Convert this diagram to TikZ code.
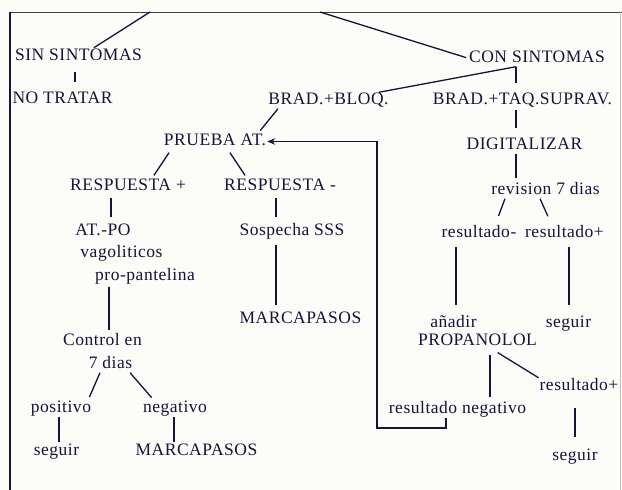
\documentclass[tikz,border=0pt]{standalone}
\usepackage{fontspec}
\setmainfont[LetterSpace=3]{Liberation Serif}
\usetikzlibrary{arrows.meta}
\definecolor{ink}{RGB}{22,20,58}
\definecolor{paper}{RGB}{252,252,248}
\tikzset{
  lbl/.style={anchor=base,inner sep=0pt,text height=12pt,text depth=4pt,
    font=\fontsize{17.5}{20}\selectfont,text=ink},
  link/.style={ink,line width=1.3pt,shorten <=3pt,shorten >=4pt},
  back/.style={ink,line width=1.3pt,->,shorten >=1pt}
}
\begin{document}
\begin{tikzpicture}[x=1pt,y=-1pt,>={Stealth[length=8pt,width=6.5pt]}]
  \fill[paper] (0,0) rectangle (622,490);
  \useasboundingbox (0,0) rectangle (622,490);
  % frame
  \draw[line width=1pt,black!75] (10,12) -- (622,12);
  \draw[line width=1.2pt,ink] (10,12) -- (10,490);
  \draw[line width=0.6pt,black!25] (620,12) -- (620,490);
  \coordinate (rootL) at (150,12);
  \coordinate (rootR) at (320,12);
  \coordinate (loopB) at (377,428);
  % left branch
  \node[lbl] (sin) at (78.5,60.5) {SIN SINTOMAS};
  \node[lbl] (notratar) at (62.5,103.5) {NO TRATAR};
  % right branch
  \node[lbl] (con) at (537,62.5) {CON SINTOMAS};
  \node[lbl] (bloq) at (328.5,104.5) {BRAD.+BLOQ.};
  \node[lbl] (taq) at (522.5,104.5) {BRAD.+TAQ.SUPRAV.};
  \node[lbl] (digit) at (524.5,149.5) {DIGITALIZAR};
  \node[lbl] (revision) at (545.5,194.5) {revision 7 dias};
  \node[lbl] (resm) at (479,237.5) {resultado-};
  \node[lbl] (resp) at (564.5,237.5) {resultado+};
  \node[lbl] (anadir) at (453.5,327.5) {añadir};
  \node[lbl] (seguirA) at (568.5,327.5) {seguir};
  \node[lbl] (propa) at (477.5,345.5) {PROPANOLOL};
  \node[lbl] (resp2) at (579,390.5) {resultado+};
  \node[lbl] (resneg) at (457.5,413.5) {resultado negativo};
  \node[lbl] (seguirB) at (575,460.5) {seguir};
  % prueba atropina
  \node[lbl] (prueba) at (215,145.5) {PRUEBA AT.};
  \node[lbl] (rpos) at (128,190.5) {RESPUESTA +};
  \node[lbl] (rneg) at (280,190.5) {RESPUESTA -};
  \node[lbl] (atpo) at (103,235.5) {AT.-PO};
  \node[lbl] (vago) at (121.5,257.5) {vagoliticos};
  \node[lbl] (pro) at (145,280.5) {pro-pantelina};
  \node[lbl] (sosp) at (292,235.5) {Sospecha SSS};
  \node[lbl] (marcaA) at (300.5,323.5) {MARCAPASOS};
  \node[lbl] (control) at (102.5,345.5) {Control en};
  \node[lbl] (siete) at (110.5,368.5) {7 dias};
  \node[lbl] (positivo) at (61,412.5) {positivo};
  \node[lbl] (negativo) at (175,412.5) {negativo};
  \node[lbl] (seguirC) at (56.5,455.5) {seguir};
  \node[lbl] (marcaB) at (196.5,455.5) {MARCAPASOS};
  % connectors
  \draw[link,shorten <=0pt,shorten >=1pt] (rootL) -- ([xshift=14.5pt]sin.north);
  \draw[link,shorten <=0pt,shorten >=3pt] (rootR) -- (con.west);
  \draw[link,shorten <=7.5pt,shorten >=9.5pt] ([xshift=-3.5pt]sin.south) -- ([xshift=-3.5pt]sin.south |- notratar.north);
  \draw[link,shorten <=0pt,shorten >=9pt] ([xshift=-21pt]con.south) -- ([xshift=-21pt]con.south |- taq.north);
  \draw[link,shorten <=0pt,shorten >=0pt] ([xshift=-21pt]con.south) -- ([xshift=-10pt]bloq.north east);
  \draw[link,shorten <=1.5pt,shorten >=9.5pt] ([xshift=-6.5pt]taq.south) -- ([xshift=-6.5pt]taq.south |- digit.north);
  \draw[link,shorten <=0pt,shorten >=4.5pt] ([xshift=-8.5pt]digit.south) -- ([xshift=-8.5pt]digit.south |- revision.north);
  \draw[link,shorten <=0pt,shorten >=10pt] ([xshift=-40.5pt]revision.south) -- ([xshift=16pt]resm.north);
  \draw[link,shorten <=0pt,shorten >=10pt] ([xshift=-5.5pt]revision.south) -- ([xshift=-12.5pt]resp.north);
  \draw[link,shorten <=5.5pt,shorten >=10.5pt] ([xshift=-23pt]resm.south) -- ([xshift=-23pt]resm.south |- anadir.north);
  \draw[link,shorten <=5.5pt,shorten >=10.5pt] ([xshift=4.5pt]resp.south) -- ([xshift=4.5pt]resp.south |- seguirA.north);
  \draw[link,shorten <=5.5pt,shorten >=4.5pt] ([xshift=12.5pt]propa.south) -- ([xshift=12.5pt]propa.south |- resneg.north);
  \draw[link,shorten <=5.5pt,shorten >=1pt] ([xshift=15.5pt]propa.south) -- (resp2.north west);
  \draw[link,shorten <=13.5pt,shorten >=11.5pt] ([xshift=-4pt]resp2.south) -- ([xshift=-4pt]resp2.south |- seguirB.north);
  \draw[back] ([xshift=-11.5pt]resneg.south) |- (loopB) |- (prueba.east);
  \draw[link,shorten <=0pt,shorten >=3.5pt] ([xshift=-50.5pt]bloq.south) -- ([xshift=43pt]prueba.north);
  \draw[link,shorten <=3.5pt,shorten >=3.5pt] ([xshift=-44pt]prueba.south) -- ([xshift=24pt]rpos.north);
  \draw[link,shorten <=3.5pt,shorten >=3.5pt] ([xshift=13pt]prueba.south) -- ([xshift=-33pt]rneg.north);
  \draw[link,shorten <=3.5pt,shorten >=6.5pt] ([xshift=-17pt]rpos.south) -- ([xshift=-17pt]rpos.south |- atpo.north);
  \draw[link,shorten <=3.5pt,shorten >=6.5pt] ([xshift=-4pt]rneg.south) -- ([xshift=-4pt]rneg.south |- sosp.north);
  \draw[link,shorten <=2.5pt,shorten >=3.5pt] ([xshift=-36pt]pro.south) -- ([xshift=-36pt]pro.south |- control.north);
  \draw[link,shorten <=5.5pt,shorten >=6.5pt] ([xshift=-16pt]sosp.south) -- ([xshift=-16pt]sosp.south |- marcaA.north);
  \draw[link,shorten <=0pt,shorten >=3.5pt] ([xshift=-10.5pt]siete.south) -- ([xshift=27pt]positivo.north);
  \draw[link,shorten <=0pt,shorten >=3.5pt] ([xshift=19.5pt]siete.south) -- ([xshift=-21pt]negativo.north);
  \draw[link,shorten <=0.5pt,shorten >=1.5pt] ([xshift=-2pt]positivo.south) -- ([xshift=-2pt]positivo.south |- seguirC.north);
  \draw[link,shorten <=0.5pt,shorten >=1.5pt] ([xshift=-1pt]negativo.south) -- ([xshift=-1pt]negativo.south |- marcaB.north);
\end{tikzpicture}
\end{document}
